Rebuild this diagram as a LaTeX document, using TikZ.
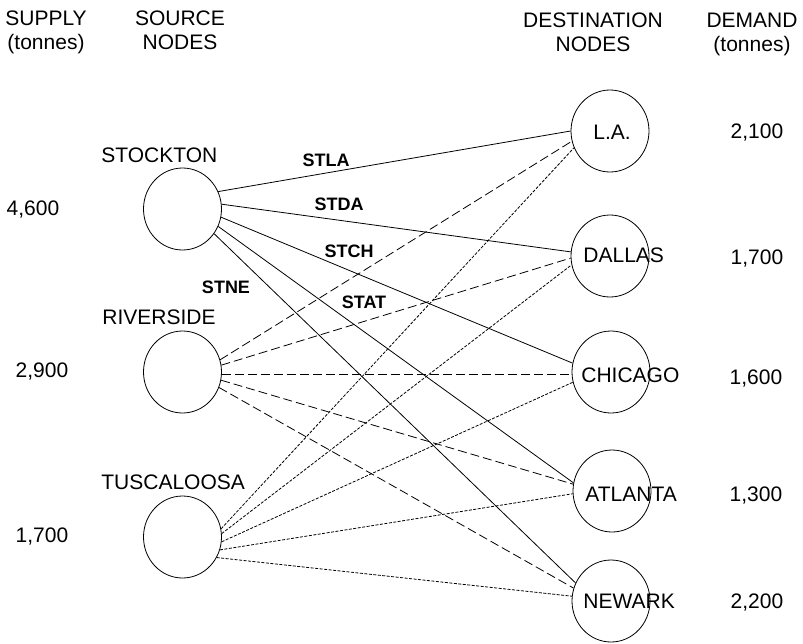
\documentclass[tikz,border=0pt]{standalone}
\usepackage{fontspec}
\setmainfont{Liberation Sans}
\usetikzlibrary{shapes.geometric}

\begin{document}
\begin{tikzpicture}[x=1pt, y=-1pt, line width=0.8pt]
  \tikzset{every node/.style={font=\fontsize{21}{24}\selectfont, inner sep=0pt},
    site/.style={draw, ellipse, minimum width=78pt, minimum height=82pt},
    head/.style={align=center},
    cost/.style={font=\fontsize{18}{20}\selectfont\bfseries},
    fromRI/.style={dash pattern=on 9pt off 4pt},
    fromTU/.style={dash pattern=on 3pt off 1.5pt}}
  \useasboundingbox (0,0) rectangle (803,643);

  % column headings
  \node[head] (SUPPLY) at (46,32) {SUPPLY\\(tonnes)};
  \node[head] (SOURCE) at (180,30) {SOURCE\\NODES};
  \node[head] (DEST) at (593,32) {DESTINATION\\NODES};
  \node[head] (DEMAND) at (752,34) {DEMAND\\(tonnes)};

  % sources
  \node[site] (SRC-1) at (182.5,209) {};
  \node[site] (SRC-2) at (182.5,372) {};
  \node[site] (SRC-3) at (182.5,537) {};
  \node[anchor=west] (SRC-1-name) at (101,155) {STOCKTON};
  \node[anchor=west] (SRC-2-name) at (102,317) {RIVERSIDE};
  \node[anchor=west] (SRC-3-name) at (101,482) {TUSCALOOSA};
  \node (SUP-1) at (33,210) {4,600};
  \node (SUP-2) at (42,372) {2,900};
  \node (SUP-3) at (42,537) {1,700};

  % destinations
  \node[site] (DST-1) at (610,131) {};
  \node[site] (DST-2) at (610,256) {};
  \node[site] (DST-3) at (611,372) {};
  \node[site] (DST-4) at (612,491) {};
  \node[site] (DST-5) at (611,601) {};
  \node[anchor=west] (DST-1-name) at (593,132) {L.A.};
  \node[anchor=west] (DST-2-name) at (583,255) {DALLAS};
  \node[anchor=west] (DST-3-name) at (581,375) {CHICAGO};
  \node[anchor=west] (DST-4-name) at (585,494) {ATLANTA};
  \node[anchor=west] (DST-5-name) at (583,601) {NEWARK};
  \node (DEM-1) at (757,133) {2,100};
  \node (DEM-2) at (757,259) {1,700};
  \node (DEM-3) at (756,379) {1,600};
  \node (DEM-4) at (756,496) {1,300};
  \node (DEM-5) at (757,603) {2,200};

  % routes out of Stockton
  \draw (SRC-1.26) -- (DST-1.180);
  \draw (SRC-1.7) -- (DST-2.174);
  \draw (SRC-1.-12) -- (DST-3.167);
  \draw (SRC-1.-26) -- (DST-4.168);
  \draw (SRC-1.-38) -- (DST-5.153);
  \node[cost] (STLA) at (326,160) {STLA};
  \node[cost] (STDA) at (339,204) {STDA};
  \node[cost] (STCH) at (349,251) {STCH};
  \node[cost] (STAT) at (364,302) {STAT};
  \node[cost] (STNE) at (226,287) {STNE};

  % routes out of Riverside
  \draw[fromRI] (SRC-2.18) -- (DST-1.195);
  \draw[fromRI] (SRC-2.10) -- (DST-2.183);
  \draw[fromRI] (SRC-2.-3) -- (DST-3.183);
  \draw[fromRI] (SRC-2.-12) -- (DST-4.170);
  \draw[fromRI] (SRC-2.-23) -- (DST-5.161);

  % routes out of Tuscaloosa
  \draw[fromTU] (SRC-3.12) -- (DST-1.205);
  \draw[fromTU] (SRC-3.5) -- (DST-2.193);
  \draw[fromTU] (SRC-3.-7) -- (DST-3.195);
  \draw[fromTU] (SRC-3.-19) -- (DST-4.184);
  \draw[fromTU] (SRC-3.-31) -- (DST-5.173);
\end{tikzpicture}
\end{document}
